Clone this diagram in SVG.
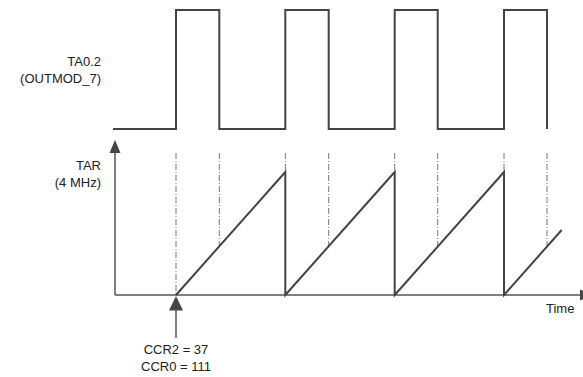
<svg xmlns="http://www.w3.org/2000/svg" width="583" height="377" viewBox="0 0 583 377">
<style>
.sig{fill:none;stroke:#444;stroke-width:2;stroke-linejoin:miter}
.axis{fill:none;stroke:#555;stroke-width:1.5}
.guide{fill:none;stroke:#777;stroke-width:1;stroke-dasharray:6,2,1,2}
.head{fill:#444}
text{font-family:"Liberation Sans",Arial,sans-serif;font-size:13px;fill:#222}
</style>
<rect width="583" height="377" fill="#fff"/>
<g id="labels">
<text x="101" y="66" text-anchor="end">TA0.2</text>
<text x="101" y="83" text-anchor="end">(OUTMOD_7)</text>
<text x="101" y="170" text-anchor="end">TAR</text>
<text x="101" y="187" text-anchor="end">(4 MHz)</text>
<text x="546" y="313">Time</text>
<text x="176" y="354" text-anchor="middle">CCR2 = 37</text>
<text x="176" y="371" text-anchor="middle">CCR0 = 111</text>
</g>
<g id="guides">
<line class="guide" x1="176" y1="153" x2="176" y2="295"/>
<line class="guide" x1="219.3" y1="153" x2="219.3" y2="246"/>
<line class="guide" x1="285.3" y1="153" x2="285.3" y2="172"/>
<line class="guide" x1="328.7" y1="153" x2="328.7" y2="246"/>
<line class="guide" x1="394.7" y1="153" x2="394.7" y2="172"/>
<line class="guide" x1="437.7" y1="153" x2="437.7" y2="246"/>
<line class="guide" x1="504" y1="153" x2="504" y2="172"/>
<line class="guide" x1="547" y1="153" x2="547" y2="246"/>
</g>
<g id="axes">
<line class="axis" x1="115" y1="295" x2="115" y2="150"/>
<polygon class="head" points="115,140 109.5,153 120.5,153"/>
<line class="axis" x1="115" y1="295" x2="582" y2="295"/>
<polygon class="head" points="593,295 580,289.5 580,300.5"/>
</g>
<g id="outmod">
<polyline class="sig" points="113,129 176,129 176,10 219.3,10 219.3,129 285.3,129 285.3,10 328.7,10 328.7,129 394.7,129 394.7,10 437.7,10 437.7,129 504,129 504,10 547,10 547,129"/>
</g>
<g id="tar">
<polyline class="sig" points="176,295 285.3,172 285.3,295 394.7,172 394.7,295 504,172 504,295 561.7,230"/>
</g>
<g id="ccr-arrow">
<line class="axis" x1="176" y1="338" x2="176" y2="308"/>
<polygon class="head" points="176,296 169,310.5 183,310.5"/>
</g>
</svg>
